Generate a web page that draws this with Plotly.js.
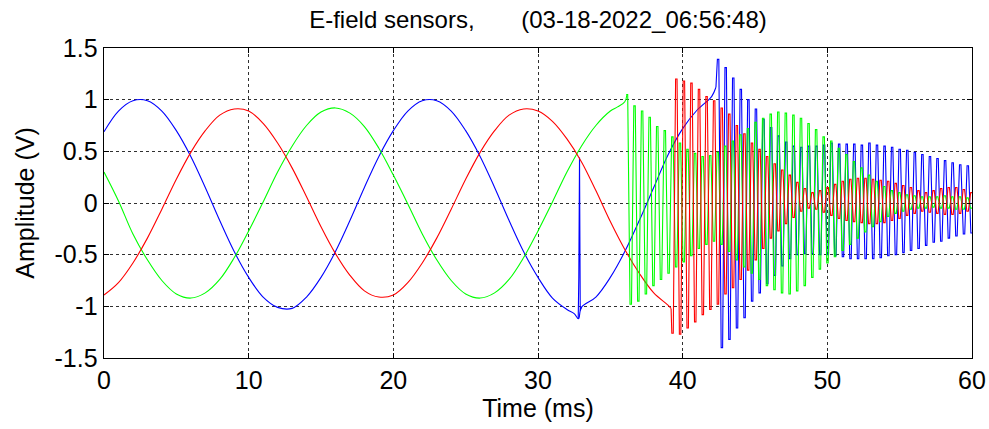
<!DOCTYPE html>
<html>
<head>
<meta charset="utf-8">
<script src="https://cdn.plot.ly/plotly-3.0.1.min.js"></script>
<style>html,body{margin:0;padding:0;background:#fff;}#chart{width:989px;height:429px;}</style>
</head>
<body>
<div id="chart"></div>
<script>
// ---- data (time in ms, amplitude in V) ----
// slow (50 Hz) part of each sensor
const blueSlowT = [0,1,2,3,4,5,6,7,8,9,10,11,12,13,14,15,16,17,18,19,20,21,22,23,24,25,26,27,28,29,30,31,32,32.5,32.8,33,34,35,36,37,38,39,40,41,42,42.3];
const blueSlowV = [0.69,0.89,0.99,0.99,0.89,0.70,0.45,0.15,-0.17,-0.47,-0.72,-0.91,-1.01,-1.02,-0.91,-0.72,-0.47,-0.17,0.15,0.45,0.70,0.89,0.99,0.99,0.89,0.70,0.45,0.15,-0.17,-0.47,-0.72,-0.92,-1.03,-1.07,-1.12,-1.01,-0.91,-0.72,-0.47,-0.17,0.15,0.47,0.72,0.90,1.03,1.12];
const redSlowT = [0,1,2,3,4,5,6,7,8,9,10,11,12,13,14,15,16,17,18,19,20,21,22,23,24,25,26,27,28,29,30,31,32,33,34,35,36,37,38,39,39.2];
const redSlowV = [-0.89,-0.77,-0.58,-0.34,-0.06,0.23,0.49,0.70,0.85,0.91,0.89,0.77,0.58,0.34,0.06,-0.23,-0.49,-0.70,-0.85,-0.91,-0.89,-0.77,-0.58,-0.34,-0.06,0.23,0.49,0.70,0.85,0.91,0.89,0.79,0.62,0.40,0.12,-0.18,-0.45,-0.68,-0.87,-0.99,-1.02];
const greenSlowT = [0,1,2,3,4,5,6,7,8,9,10,11,12,13,14,15,16,17,18,19,20,21,22,23,24,25,26,27,28,29,30,31,32,33,34,35,35.5,36,36.15];
const greenSlowV = [0.30,0.02,-0.30,-0.55,-0.75,-0.88,-0.92,-0.87,-0.74,-0.53,-0.27,0.01,0.30,0.55,0.75,0.88,0.92,0.87,0.74,0.53,0.27,-0.01,-0.30,-0.55,-0.75,-0.88,-0.92,-0.87,-0.74,-0.53,-0.27,0.01,0.30,0.55,0.75,0.89,0.93,0.98,1.05];
// blue transient spike near 32.8 ms
const blueSpikeT = [32.78,32.82,32.87,32.92,33.0];
const blueSpikeV = [-1.12,-0.72,0.44,-1.04,-1.01];

// fast oscillation part: per-cycle extreme values
const oscPeriod = 0.523;            // ms
const greenFastStart = 36.15;       // first extreme = high
const greenHi = [1.05,0.94,0.89,0.83,0.74,0.70,0.64,0.58,0.52,0.48,0.45,0.46,0.49,0.55,0.60,0.66,0.72,0.78,0.82,0.86,0.88,0.87,0.85,0.82,0.77,0.71,0.64,0.60,0.53,0.47,0.40,0.34,0.27,0.21,0.16,0.12,0.10,0.08,0.07,0.06,0.06,0.06,0.07,0.06,0.06,0.05];
const greenLo = [-0.98,-0.95,-0.88,-0.80,-0.74,-0.68,-0.62,-0.57,-0.51,-0.44,-0.40,-0.37,-0.40,-0.47,-0.55,-0.62,-0.68,-0.74,-0.80,-0.84,-0.87,-0.88,-0.85,-0.80,-0.72,-0.64,-0.58,-0.52,-0.46,-0.40,-0.34,-0.28,-0.23,-0.18,-0.13,-0.10,-0.08,-0.06,-0.05,-0.05,-0.04,-0.05,-0.05,-0.06,-0.06,-0.05];
const redFastStart = 39.30;         // first extreme = low
const redLo = [-1.26,-1.27,-1.21,-1.15,-1.08,-1.03,-0.98,-0.88,-0.82,-0.74,-0.65,-0.55,-0.44,-0.34,-0.27,-0.20,-0.14,-0.08,-0.05,-0.06,-0.09,-0.12,-0.15,-0.17,-0.18,-0.19,-0.20,-0.20,-0.19,-0.17,-0.15,-0.12,-0.10,-0.08,-0.09,-0.10,-0.11,-0.11,-0.10,-0.08];
const redHi = [1.20,1.18,1.16,1.10,1.03,0.99,0.92,0.86,0.75,0.67,0.58,0.52,0.45,0.38,0.32,0.27,0.20,0.14,0.10,0.12,0.15,0.18,0.21,0.23,0.24,0.24,0.23,0.22,0.21,0.19,0.17,0.15,0.12,0.10,0.12,0.14,0.15,0.15,0.13,0.10];
const blueFastStart = 42.45;        // first extreme = high
const blueHi = [1.39,1.31,1.21,1.10,1.00,0.91,0.81,0.73,0.65,0.59,0.55,0.54,0.55,0.55,0.56,0.58,0.57,0.57,0.57,0.56,0.58,0.56,0.55,0.54,0.52,0.51,0.49,0.47,0.45,0.43,0.41,0.39,0.37,0.36];
const blueLo = [-1.40,-1.32,-1.21,-1.11,-0.95,-0.87,-0.78,-0.70,-0.61,-0.54,-0.50,-0.49,-0.49,-0.50,-0.50,-0.51,-0.52,-0.54,-0.54,-0.54,-0.54,-0.53,-0.51,-0.50,-0.48,-0.46,-0.44,-0.41,-0.38,-0.37,-0.34,-0.32,-0.30,-0.29];

const xTicks = [0,10,20,30,40,50,60];
const yTicks = [-1.5,-1,-0.5,0,0.5,1,1.5];
const yTickText = ['-1.5','-1','-0.5','0','0.5','1','1.5'];
const titleText = 'E-field sensors,\u00A0\u00A0\u00A0\u00A0\u00A0\u00A0\u00A0(03-18-2022_06:56:48)';

// ---- build fast traces from the extreme values ----
function buildFast(t0, v0, start, first, second) {
  const half = oscPeriod / 2, a = 0.05;
  const x = [t0], y = [v0];
  for (let i = 0; i < first.length; i++) {
    const t1 = start + i * oscPeriod;
    x.push(t1 - a, t1 + a); y.push(first[i], first[i]);
    const t2 = t1 + half;
    x.push(t2 - a, t2 + a); y.push(second[i], second[i]);
  }
  return {x, y};
}
const last = arr => arr[arr.length - 1];
const gF = buildFast(last(greenSlowT), last(greenSlowV), greenFastStart, greenHi, greenLo);
const rF = buildFast(last(redSlowT), last(redSlowV), redFastStart, redLo, redHi);
const bF = buildFast(last(blueSlowT), last(blueSlowV), blueFastStart, blueHi, blueLo);

const BLUE = '#0000ff', RED = '#ff0000', GREEN = '#00ff00';
const lw = 1.1;
function tr(x, y, c, shape) {
  return {x, y, type: 'scatter', mode: 'lines', hoverinfo: 'skip', showlegend: false,
    line: {color: c, width: lw, shape: shape || 'linear'}};
}
const data = [
  tr(blueSlowT, blueSlowV, BLUE, 'spline'),
  tr(blueSpikeT, blueSpikeV, BLUE),
  tr(greenSlowT, greenSlowV, GREEN, 'spline'),
  tr(redSlowT, redSlowV, RED, 'spline'),
  tr(bF.x, bF.y, BLUE),
  tr(gF.x, gF.y, GREEN),
  tr(rF.x, rF.y, RED)
];

const FONT = 'Liberation Sans, Arial, sans-serif';
const FS = 25;
const axisCommon = {
  showline: true, linecolor: '#000', linewidth: 1.4, mirror: 'allticks',
  ticks: 'inside', ticklen: 5, tickcolor: '#000', tickwidth: 1,
  showgrid: true, gridcolor: '#303030', griddash: 'dot', gridwidth: 1,
  zeroline: false, tickfont: {family: FONT, size: FS, color: '#000'}
};
const layout = {
  width: 989, height: 429,
  margin: {l: 104, r: 17, t: 48, b: 71},
  paper_bgcolor: '#fff', plot_bgcolor: '#fff',
  font: {family: FONT, color: '#000'},
  title: {text: titleText, font: {family: FONT, size: 24, color: '#000'},
          x: 0.5, xref: 'paper', xanchor: 'center', y: 0.955, yref: 'container', yanchor: 'middle'},
  xaxis: Object.assign({}, axisCommon, {
    range: [0, 60], tickvals: xTicks, ticktext: xTicks.map(String),
    title: {text: 'Time (ms)', font: {family: FONT, size: FS, color: '#000'}, standoff: 4}
  }),
  yaxis: Object.assign({}, axisCommon, {
    range: [-1.5, 1.5], tickvals: yTicks, ticktext: yTickText,
    title: {text: 'Amplitude (V)', font: {family: FONT, size: FS, color: '#000'}, standoff: 12}
  })
};
Plotly.newPlot('chart', data, layout, {displayModeBar: false, staticPlot: true});
</script>
</body>
</html>
